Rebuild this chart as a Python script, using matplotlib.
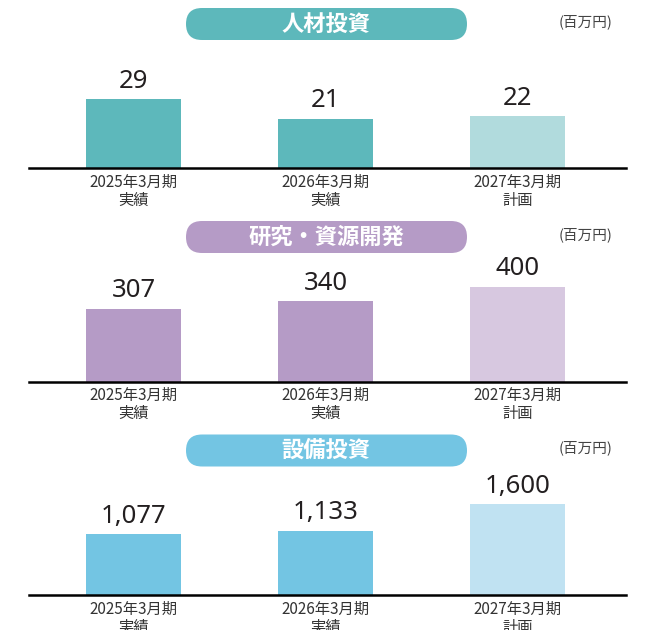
import matplotlib
matplotlib.use("Agg")
import matplotlib.pyplot as plt
from matplotlib.patches import FancyBboxPatch
from matplotlib.transforms import IdentityTransform

plt.rcParams['font.family'] = ['Noto Sans CJK JP', 'DejaVu Sans']

# data
periods = ["2025年3月期", "2026年3月期", "2027年3月期"]
kinds = ["実績", "実績", "計画"]
titles = ["人材投資", "研究・資源開発", "設備投資"]
hr_values = [29, 21, 22]
rd_values = [307, 340, 400]
capex_values = [1077, 1133, 1600]
unit = "(百万円)"

# style
dark_colors = ["#5db8bb", "#b59bc6", "#73c5e3"]
light_colors = ["#b1dbdd", "#d7c8e0", "#c0e2f2"]
baselines = [168.5, 381.5, 595.0]      # pixel row of each axis line
max_bar_px = [69, 95, 91]              # pixel height of the tallest bar

W, H = 650, 630
fig = plt.figure(figsize=(W / 100, H / 100), dpi=100)


def fx(px):
    return px / W


def fy(py):
    return 1 - py / H


panel_values = [hr_values, rd_values, capex_values]
axes_px = 130
x = list(range(len(periods)))
labels = [f"{p}\n{k}" for p, k in zip(periods, kinds)]

for i, values in enumerate(panel_values):
    base = baselines[i]
    ax = fig.add_axes([fx(29), fy(base), fx(626) - fx(29), axes_px / H])
    colors = [light_colors[i] if k == "計画" else dark_colors[i] for k in kinds]
    ax.bar(x, values, width=0.495, color=colors)
    ax.set_xlim(-0.544, 2.565)
    ax.set_ylim(0, max(values) * axes_px / max_bar_px[i])
    for s in ["top", "left", "right"]:
        ax.spines[s].set_visible(False)
    ax.spines["bottom"].set_linewidth(1.8)
    ax.spines["bottom"].set_color("black")
    ax.set_yticks([])
    ax.set_xticks(x, labels, fontsize=11, linespacing=1.1, color="#333333")
    ax.tick_params(axis="x", length=0, pad=4)
    ax.patch.set_alpha(0)

    for xi, v in zip(x, values):
        ax.annotate(f"{v:,}", (xi, v), xytext=(0, 8), textcoords="offset points",
                    ha="center", va="baseline", fontsize=18.5,
                    family=["Noto Sans", "DejaVu Sans"], color="#231f20")

    # title pill
    top = H - (base - 160.5)
    pill = FancyBboxPatch((186, top - 32), 281, 32,
                          boxstyle="round,pad=0,rounding_size=16",
                          transform=IdentityTransform(), facecolor=dark_colors[i],
                          edgecolor="none")
    fig.add_artist(pill)
    fig.text(fx(326), fy(base - 144.5), titles[i], ha="center", va="center",
             fontsize=16, fontweight="bold", color="white")
    fig.text(fx(586), fy(base - 147), unit, ha="center", va="center",
             fontsize=10.5, color="#444444")

fig.savefig("out.png", dpi=100)
